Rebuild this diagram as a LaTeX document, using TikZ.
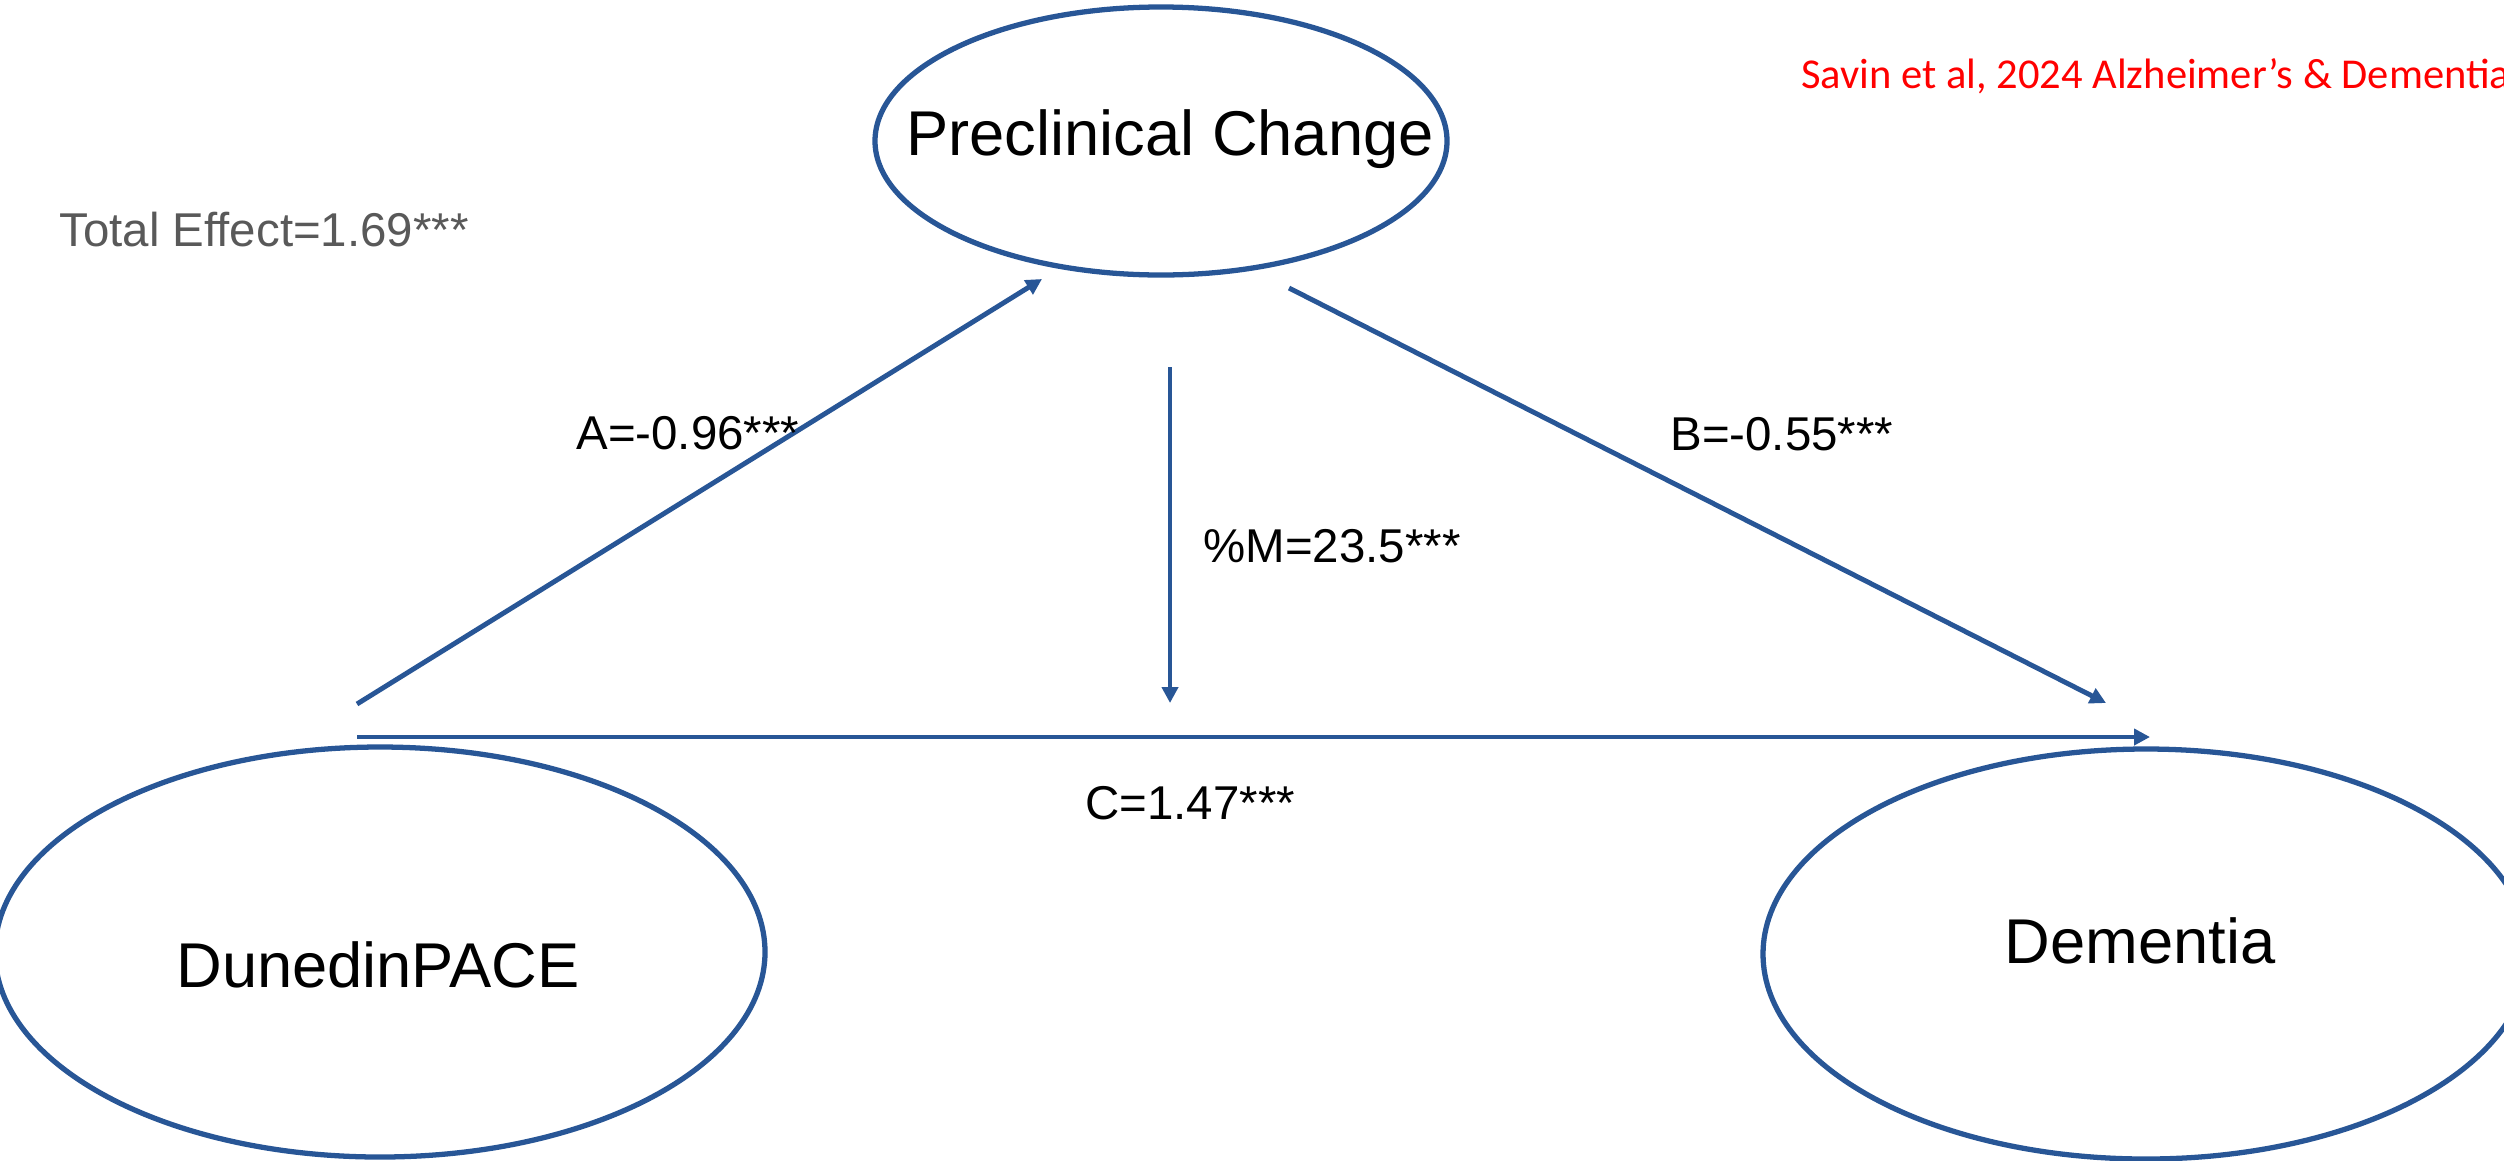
\documentclass[tikz,border=0pt]{standalone}
\usepackage{fontspec}
\setmainfont{Liberation Sans}
\newfontfamily\citefont{Carlito}
\usetikzlibrary{shapes.geometric, arrows.meta}
\definecolor{pathblue}{RGB}{40,86,150}
\definecolor{effectgray}{RGB}{89,89,89}
\definecolor{citered}{RGB}{255,0,0}

\begin{document}
\begin{tikzpicture}[
    var/.style={draw=pathblue, line width=1.5pt, ellipse, inner sep=0pt},
    vartext/.style={anchor=base, font=\fontsize{18}{21}\selectfont},
    coef/.style={anchor=base west, font=\fontsize{13.5}{16}\selectfont},
    conn/.style={draw=pathblue, line width=1.4pt, -{Triangle[length=0.16cm, width=0.16cm]}}
]
    \useasboundingbox (0,0) rectangle (25.04,-11.60);

    % Variabili del modello di mediazione
    \node[var, minimum width=5.72cm, minimum height=2.68cm] (pre) at (11.61,-1.41) {};
    \node[var, minimum width=7.70cm, minimum height=4.10cm] (dun) at (3.80,-9.52) {};
    \node[var, minimum width=7.66cm, minimum height=4.10cm] (dem) at (21.46,-9.54) {};
    \node[vartext] (preT) at (11.70,-1.55) {Preclinical Change};
    \node[vartext] (dunT) at (3.78,-9.87) {DunedinPACE};
    \node[vartext] (demT) at (21.40,-9.63) {Dementia};

    % Estremi delle frecce
    \coordinate (aStart) at (3.57,-7.04);
    \coordinate (aEnd) at (10.42,-2.79);
    \coordinate (bStart) at (12.89,-2.88);
    \coordinate (bEnd) at (21.06,-7.03);
    \coordinate (mStart) at (11.70,-3.67);
    \coordinate (mEnd) at (11.70,-7.03);
    \coordinate (cStart) at (3.57,-7.37);
    \coordinate (cEnd) at (21.50,-7.37);

    % Percorsi
    \draw[conn] (aStart) -- (aEnd);
    \draw[conn] (bStart) -- (bEnd);
    \draw[conn] (mStart) -- (mEnd);
    \draw[conn] (cStart) -- (cEnd);

    % Coefficienti
    \node[coef] (aLab) at (5.64,-4.49) {A=-0.96***};
    \node[coef] (bLab) at (16.58,-4.50) {B=-0.55***};
    \node[coef] (mLab) at (11.91,-5.62) {\%M=23.5***};
    \node[coef] (cLab) at (10.73,-8.19) {C=1.47***};
    \node[coef, text=effectgray] (total) at (0.47,-2.46) {Total Effect=1.69***};

    % Fonte
    \node[anchor=base west, text=citered, font=\citefont\fontsize{12.1}{15}\selectfont] (cite) at (17.89,-0.88) {Savin et al, 2024 Alzheimer’s \& Dementia};
\end{tikzpicture}
\end{document}
